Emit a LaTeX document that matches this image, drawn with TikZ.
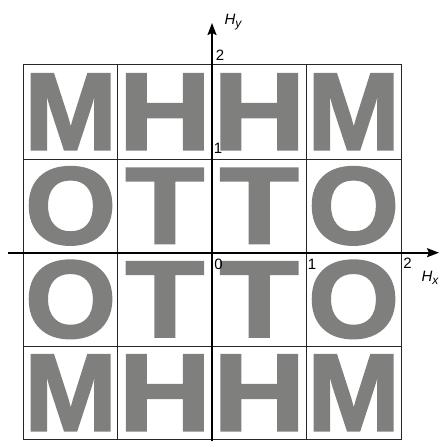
\documentclass[tikz,border=0pt]{standalone}
\usepackage{fontspec}
\setmainfont{Liberation Sans}
\newfontfamily\letterfont[FakeBold=2]{Liberation Sans Bold}
\usetikzlibrary{arrows.meta}
\definecolor{lettergray}{RGB}{127,128,126}
\newcommand{\bigglyph}[3]{\scalebox{#2}[#3]{\letterfont\fontsize{100pt}{100pt}\selectfont #1}}
\newcommand{\axlabel}[2]{{\itshape #1\raisebox{-0.4ex}{\fontsize{12pt}{12pt}\selectfont #2}}}
\newcommand{\glM}{\bigglyph{M}{1.115}{1.10}}
\newcommand{\glH}{\bigglyph{H}{1.28}{1.10}}
\newcommand{\glO}{\bigglyph{O}{1.17}{1.10}}
\newcommand{\glT}{\bigglyph{T}{1.29}{1.088}}
\begin{document}
\begin{tikzpicture}[x=1pt,y=-1pt,
  letter/.style={inner sep=0pt, outer sep=0pt, text=lettergray, anchor=center},
  gridline/.style={draw=black!85, line width=0.9pt},
  axisline/.style={draw=black, line width=1.8pt, -{Stealth[length=12pt,width=9pt,inset=2pt]}},
  lbl/.style={inner sep=0pt, font=\fontsize{15pt}{15pt}\selectfont}]
\useasboundingbox (0,0) rectangle (441,441);
\fill[white] (0,0) rectangle (441,441);
% letters
\node[letter] (m1) at (70.6,111.8) {\glM};
\node[letter] (h1) at (164.9,111.8) {\glH};
\node[letter] (h2) at (259.2,111.8) {\glH};
\node[letter] (m2) at (353.6,111.8) {\glM};
\node[letter] (o1) at (70.6,205.9) {\glO};
\node[letter] (t1) at (164.9,205.9) {\glT};
\node[letter] (t2) at (259.2,205.9) {\glT};
\node[letter] (o2) at (353.6,205.9) {\glO};
\node[letter] (o3) at (70.6,299.4) {\glO};
\node[letter] (t3) at (164.9,299.4) {\glT};
\node[letter] (t4) at (259.2,299.4) {\glT};
\node[letter] (o4) at (353.6,299.4) {\glO};
\node[letter] (m3) at (70.6,392.7) {\glM};
\node[letter] (h3) at (164.9,392.7) {\glH};
\node[letter] (h4) at (259.2,392.7) {\glH};
\node[letter] (m4) at (353.6,392.7) {\glM};
% grid
\draw[gridline] (23.5,64.5) rectangle (401,439.5);
\draw[gridline] (117.7,64.5) -- (117.7,439.5);
\draw[gridline] (306.3,64.5) -- (306.3,439.5);
\draw[gridline] (23.5,159) -- (401,159);
\draw[gridline] (23.5,346) -- (401,346);
% axes
\coordinate (xs) at (8,252.7);
\coordinate (xe) at (439,252.7);
\coordinate (ys) at (212,442);
\coordinate (ye) at (212,23);
\draw[axisline] (xs) -- (xe);
\draw[axisline] (ys) -- (ye);
% labels
\node[lbl] (hy) at (233,22) {\axlabel{H}{y}};
\node[lbl] (y2) at (220,55.5) {2};
\node[lbl] (y1) at (218,148.5) {1};
\node[lbl] (x0) at (218.5,264) {0};
\node[lbl] (x1) at (312,264) {1};
\node[lbl] (x2) at (407.5,263.5) {2};
\node[lbl] (hx) at (430,278) {\axlabel{H}{x}};
\end{tikzpicture}
\end{document}
